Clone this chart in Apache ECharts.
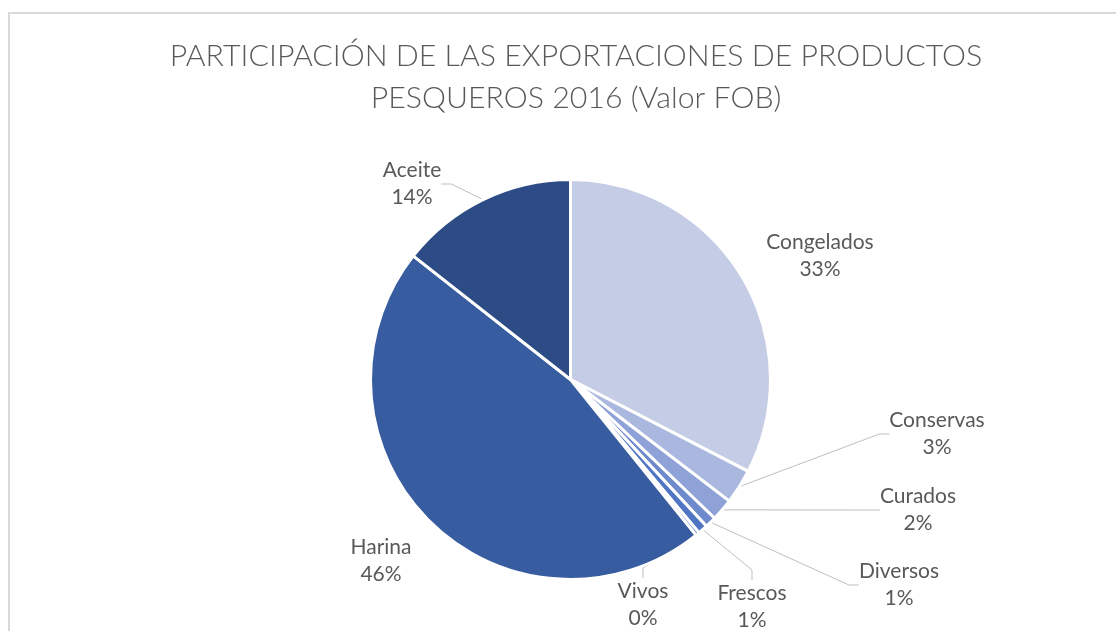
<!DOCTYPE html>
<html><head><meta charset="utf-8">
<script src="https://cdn.jsdelivr.net/npm/echarts@6/dist/echarts.min.js"></script>
<style>html,body{margin:0;padding:0;background:#fff}#c{width:1116px;height:631px}</style>
</head><body><div id="c"></div>
<script>
const categories = ['Congelados','Conservas','Curados','Diversos','Frescos','Vivos','Harina','Aceite'];
const values = [32.6, 2.8, 1.8, 0.9, 0.8, 0.3, 46.4, 14.4];
const percentLabels = ['33%','3%','2%','1%','1%','0%','46%','14%'];
const colors = ['#c5cde6','#aab8e0','#8ea2d7','#6e89cc','#5075c3','#3f67bb','#375ca0','#2d4c85'];
const labelPos = [[820,256],[937,434],[918,510],[899,585],[752,607],[643,605],[381,561],[412,184]];
const showLine = [false,true,true,true,true,true,false,true];

const chart = echarts.init(document.getElementById('c'));
chart.setOption({
  animation:false,
  graphic:[{type:'rect',shape:{x:9,y:13,width:1130,height:640},style:{fill:null,stroke:'#d9d9d9',lineWidth:2},silent:true}],
  title:{text:'PARTICIPACIÓN DE LAS EXPORTACIONES DE PRODUCTOS\nPESQUEROS 2016 (Valor FOB)',left:571,textAlign:'center',top:30,
    textStyle:{fontFamily:'Lato',fontWeight:300,fontSize:30.3,color:'#595959',lineHeight:42}},
  series:[{
    type:'pie',center:[570.5,379.5],radius:200,startAngle:90,clockwise:true,
    itemStyle:{borderColor:'#fff',borderWidth:3},
    label:{show:true,position:'outside',fontFamily:'Lato',fontSize:21,color:'#595959',lineHeight:27,
      formatter:p=>p.name+'\n'+percentLabels[p.dataIndex]},
    labelLine:{show:true,lineStyle:{color:'#bfbfbf',width:1},length:10,length2:10},
    labelLayout:p=>({x:labelPos[p.dataIndex][0],y:labelPos[p.dataIndex][1],align:'center',verticalAlign:'middle'}),
    data:categories.map((n,i)=>({name:n,value:values[i],itemStyle:{color:colors[i]},labelLine:{show:showLine[i]}}))
  }]
});
</script></body></html>
